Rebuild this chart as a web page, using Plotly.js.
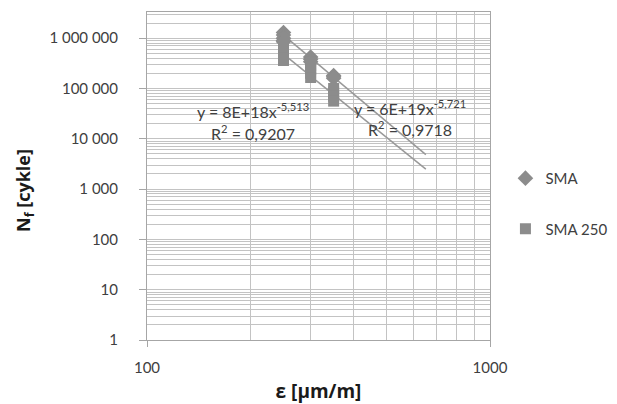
<!DOCTYPE html>
<html><head><meta charset="utf-8">
<script src="https://cdn.plot.ly/plotly-3.0.1.min.js"></script>
<style>html,body{margin:0;padding:0;background:#fff}#c{width:617px;height:404px}</style>
</head><body><div id="c"></div>
<script>
// Strain amplitude (µm/m) and cycles to failure
const smaX = [250, 250, 250, 250, 250, 300, 300, 300, 350, 350, 350];
const smaY = [1300000, 1150000, 1000000, 900000, 850000, 420000, 380000, 340000, 180000, 170000, 160000];
const sma250X = [250, 250, 250, 250, 250, 300, 300, 300, 300, 300, 350, 350, 350, 350];
const sma250Y = [600000, 520000, 450000, 400000, 360000, 330000, 280000, 240000, 200000, 165000, 100000, 85000, 70000, 56000];
// Power trendlines y = a * x^b (from chart labels)
const smaFit = {a: 6e19, b: -5.721, r2: '0,9718'};
const sma250Fit = {a: 8e18, b: -5.513, r2: '0,9207'};
const fitX = [250, 650];
const yTickVals = [1, 10, 100, 1000, 10000, 100000, 1000000];
const yTickText = ['1', '10', '100', '1 000', '10 000', '100 000', '1 000 000'];
const xTickVals = [100, 1000];
const xTickText = ['100', '1000'];

const grey = '#8c8c8c';
const fitY = f => fitX.map(x => f.a * Math.pow(x, f.b));
const FONT = 'Lato, "Open Sans", sans-serif';
const TFONT = '"Open Sans", Lato, sans-serif';

const traces = [
  {x: fitX, y: fitY(smaFit), mode: 'lines', line: {color: '#999999', width: 1.5}, showlegend: false, hoverinfo: 'skip'},
  {x: fitX, y: fitY(sma250Fit), mode: 'lines', line: {color: '#999999', width: 1.5}, showlegend: false, hoverinfo: 'skip'},
  {x: smaX, y: smaY, mode: 'markers', name: 'SMA', legendgroup: 'a',
   marker: {symbol: 'diamond', size: 12, color: grey}},
  {x: sma250X, y: sma250Y, mode: 'markers', name: 'SMA 250', legendgroup: 'b',
   marker: {symbol: 'square', size: 11, color: grey}}
];

const gridc = '#c3c3c3';
const annFont = {family: FONT, size: 16, color: '#404040'};
const layout = {
  width: 617, height: 404,
  margin: {l: 147, r: 127, t: 12, b: 64, autoexpand: false},
  paper_bgcolor: '#fff', plot_bgcolor: '#fff',
  font: {family: FONT, size: 13, color: '#404040'},
  showlegend: true,
  legend: {x: 1.045, y: 0.543, xanchor: 'left', yanchor: 'top', tracegroupgap: 28,
           font: {family: FONT, size: 15, color: '#404040'}, itemwidth: 30},
  xaxis: {type: 'log', range: [2, 3], tickvals: xTickVals, ticktext: xTickText,
          showgrid: true, gridcolor: gridc, gridwidth: 1,
          minor: {dtick: 'D1', showgrid: true, gridcolor: gridc, gridwidth: 1, ticks: ''},
          showline: true, linecolor: '#a6a6a6', linewidth: 1, mirror: true,
          ticks: 'outside', ticklen: 6, tickcolor: '#a6a6a6', zeroline: false,
          ticklabelstandoff: 8,
          tickfont: {family: FONT, size: 15, color: '#404040'},
          title: {text: '<b>ε [μm/m]</b>', font: {family: TFONT, size: 19, color: '#1a1a1a'}, standoff: 10}},
  yaxis: {type: 'log', range: [0, 6.52], tickvals: yTickVals, ticktext: yTickText,
          showgrid: true, gridcolor: gridc, gridwidth: 1,
          minor: {dtick: 'D1', showgrid: true, gridcolor: gridc, gridwidth: 1, ticks: ''},
          showline: true, linecolor: '#a6a6a6', linewidth: 1, mirror: true,
          ticks: 'outside', ticklen: 7, tickcolor: '#a6a6a6', zeroline: false,
          ticklabelstandoff: 18,
          tickfont: {family: FONT, size: 15, color: '#404040'}},
  annotations: [
    {xref: 'paper', yref: 'paper', x: (24 - 147) / 343, y: 0.5, xanchor: 'center', yanchor: 'middle',
     textangle: -90, text: '<b>N<sub>f</sub> [cykle]</b>', showarrow: false, yshift: -15,
     font: {family: TFONT, size: 18, color: '#1a1a1a'}},
    {xref: 'x', yref: 'y', x: Math.log10(204), y: 4.565, text: 'y = 8E+18x<sup>-5,513</sup>', showarrow: false, font: annFont},
    {xref: 'x', yref: 'y', x: Math.log10(204), y: 4.126, text: 'R<sup>2</sup> = ' + sma250Fit.r2, showarrow: false, font: annFont},
    {xref: 'x', yref: 'y', x: Math.log10(585), y: 4.625, text: 'y = 6E+19x<sup>-5,721</sup>', showarrow: false, font: annFont},
    {xref: 'x', yref: 'y', x: Math.log10(585), y: 4.206, text: 'R<sup>2</sup> = ' + smaFit.r2, showarrow: false, font: annFont}
  ]
};
Plotly.newPlot('c', traces, layout, {displayModeBar: false, staticPlot: true});
</script></body></html>
